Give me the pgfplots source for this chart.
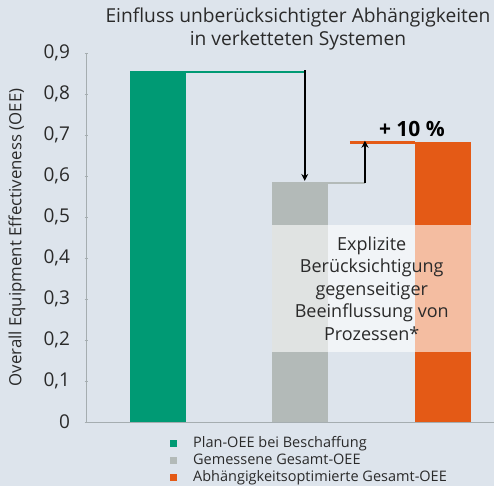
\documentclass[border=0pt]{standalone}
\usepackage{fontspec}
\setmainfont{Open Sans}
\usepackage{pgfplots}
\pgfplotsset{compat=1.18}
\usetikzlibrary{arrows.meta}
\definecolor{bg}{HTML}{DDE4EC}
\definecolor{fgreen}{HTML}{009A74}
\definecolor{fgray}{HTML}{B3BAB8}
\definecolor{forange}{HTML}{E45A16}
\definecolor{axgray}{HTML}{A5ADB0}
\definecolor{txt}{HTML}{2A2A2A}
\begin{document}
\begin{tikzpicture}[x=1bp,y=1bp]
\fill[bg] (0,0) rectangle (494,486);
\useasboundingbox (0,0) rectangle (494,486);
\node[align=center, font=\fontsize{19.2bp}{23bp}\selectfont, text=txt] at (298,457) {Einfluss unberücksichtigter Abhängigkeiten\\in verketteten Systemen};
\begin{axis}[
  at={(86bp,64bp)}, anchor=south west,
  scale only axis, width=408bp, height=369bp,
  xmin=0.495, xmax=3.358, ymin=0, ymax=0.9,
  axis x line=bottom, axis y line=left,
  axis line style={axgray, line width=0.8pt, -},
  xtick=\empty,
  ytick={0,0.1,...,0.9},
  ytick style={axgray, line width=0.6pt},
  major tick length=3bp,
  tick align=center,
  /pgf/number format/.cd, use comma, fixed, precision=1, assume math mode=true,
  /pgfplots/.cd,
  yticklabel style={font=\fontsize{19bp}{22bp}\selectfont, text=txt, anchor=east, xshift=-11bp},
  ylabel={Overall Equipment Effectiveness (OEE)},
  ylabel style={font=\fontsize{16.8bp}{20bp}\selectfont, text=txt, anchor=center, at={(axis description cs:-0.169,0.5)}},
  legend style={at={(axis description cs:0.1985,-0.034)}, anchor=north west, draw=none, fill=none,
    font=\fontsize{14.5bp}{17bp}\selectfont, text=txt, row sep=0bp,
    nodes={inner sep=0pt, text height=11bp, text depth=6bp},
    /tikz/every odd column/.append style={column sep=16bp}},
  legend cell align=left,
  legend image code/.code={\fill[#1] (0bp,-1.5bp) rectangle (7bp,5.5bp);},
  clip=false,
]
\addplot[ybar, bar width=56bp, bar shift=0pt, fill=fgreen, draw=none] coordinates {(1,0.855)};
\addplot[ybar, bar width=56bp, bar shift=0pt, fill=fgray, draw=none] coordinates {(2,0.585)};
\addplot[ybar, bar width=56bp, bar shift=0pt, fill=forange, draw=none] coordinates {(3,0.683)};
% connectors
\draw[fgreen, line width=2.2bp] (axis cs:1.1965,0.853) -- (axis cs:2.03,0.853);
\draw[fgray, line width=1.6bp] (axis cs:2.1965,0.583) -- (axis cs:2.4526,0.583);
\draw[forange, line width=2.8bp] (axis cs:2.347,0.681) -- (axis cs:2.8035,0.681);
\draw[black, line width=1.6bp, -{Stealth[length=7bp,width=7bp]}] (axis cs:2.03,0.858) -- (axis cs:2.03,0.588);
\draw[black, line width=1.6bp, -{Stealth[length=7bp,width=7bp]}] (axis cs:2.4526,0.583) -- (axis cs:2.4526,0.686);
\node[font=\bfseries\fontsize{21bp}{23bp}\selectfont, text=black] at (axis cs:2.782,0.7146) {+ 10 \%};
% box
\fill[white, opacity=0.6] (axis cs:1.8035,0.171) rectangle (axis cs:3.1965,0.4805);
\node[align=center, font=\fontsize{18bp}{22.5bp}\selectfont, text=txt] at (axis cs:2.5,0.325) {Explizite\\Berücksichtigung\\gegenseitiger\\Beeinflussung von\\Prozessen*};
\legend{Plan-OEE bei Beschaffung, Gemessene Gesamt-OEE, Abhängigkeitsoptimierte Gesamt-OEE}
\end{axis}
\end{tikzpicture}
\end{document}
